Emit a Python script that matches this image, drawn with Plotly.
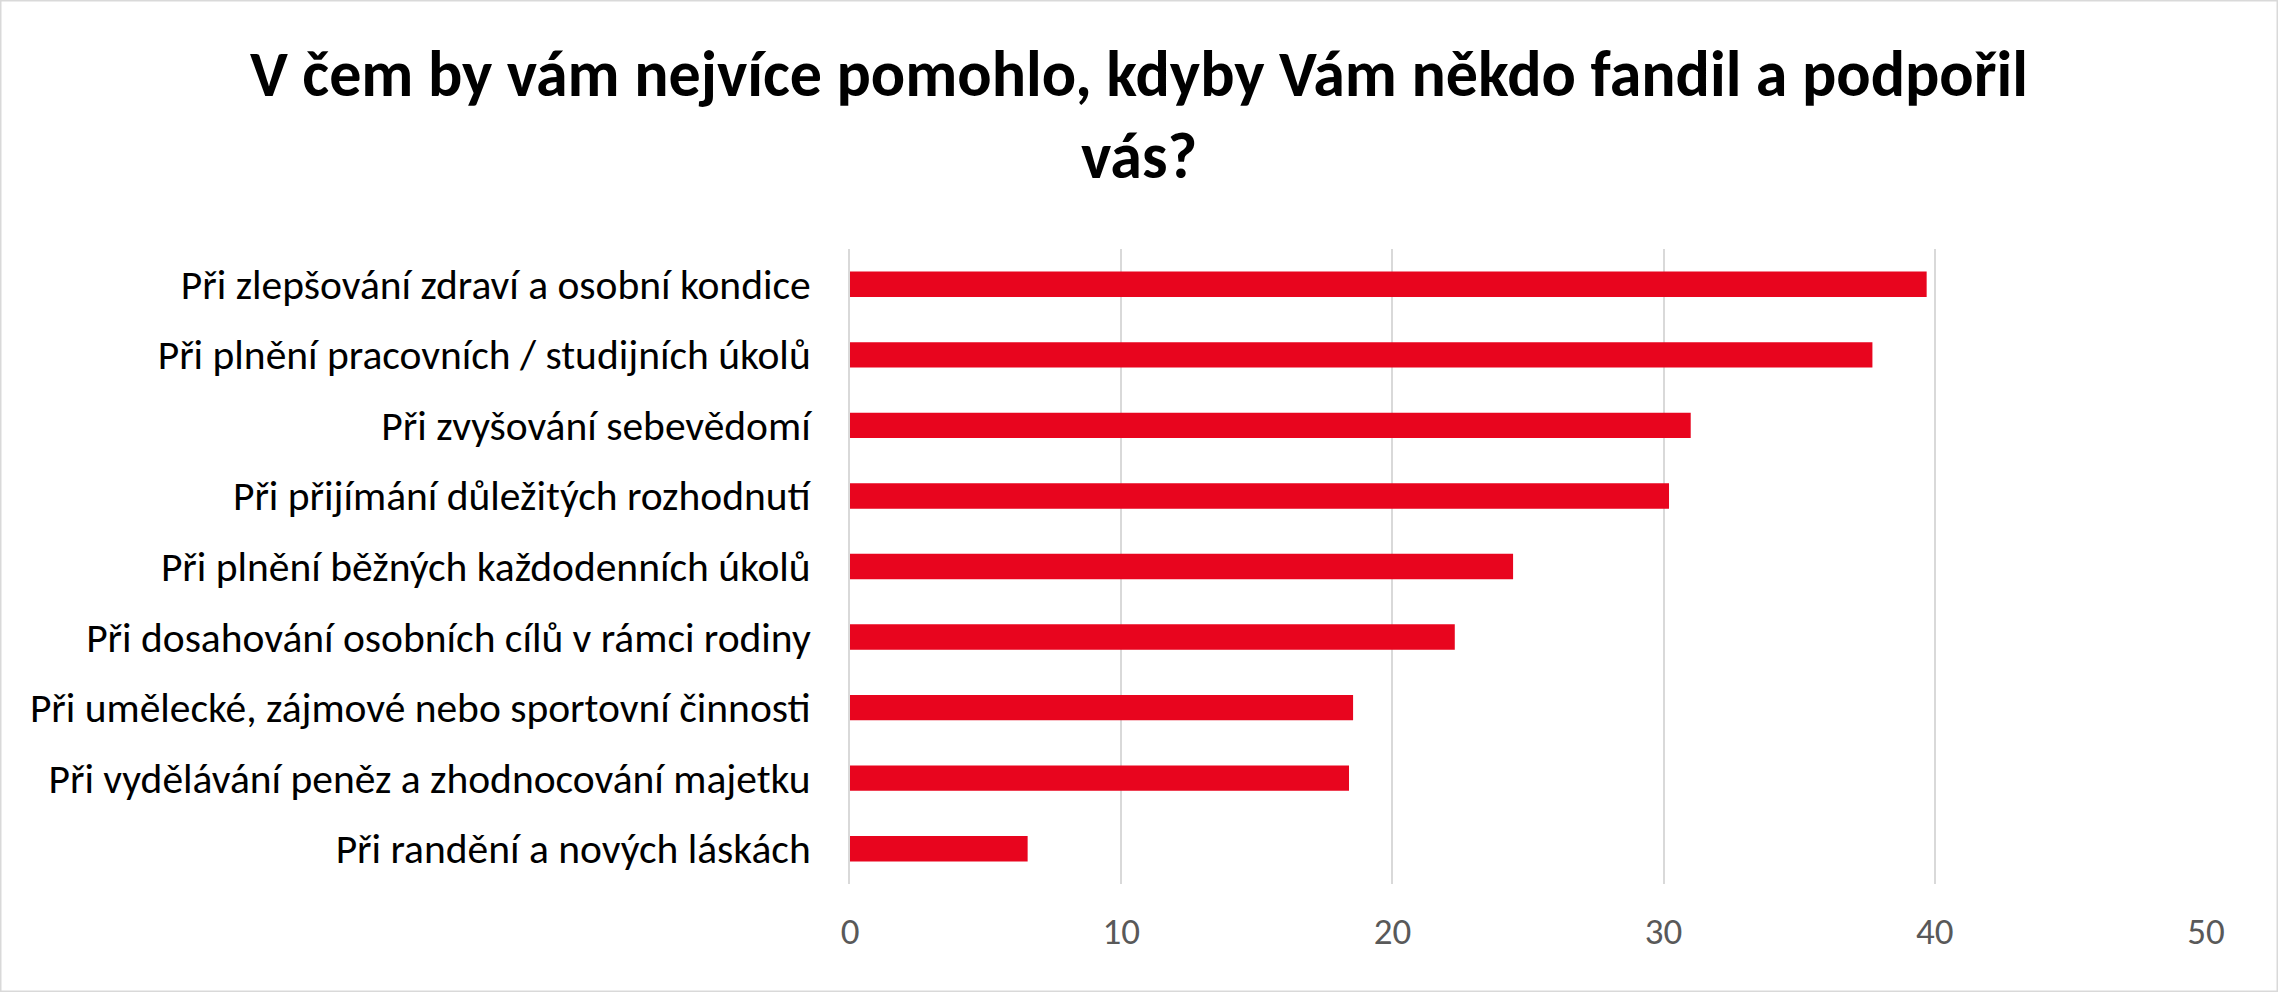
import plotly.graph_objects as go

categories = [
    "Při zlepšování zdraví a osobní kondice",
    "Při plnění pracovních / studijních úkolů",
    "Při zvyšování sebevědomí",
    "Při přijímání důležitých rozhodnutí",
    "Při plnění běžných každodenních úkolů",
    "Při dosahování osobních cílů v rámci rodiny",
    "Při umělecké, zájmové nebo sportovní činnosti",
    "Při vydělávání peněz a zhodnocování majetku",
    "Při randění a nových láskách",
]
values = [39.7, 37.7, 31.0, 30.2, 24.45, 22.3, 18.55, 18.4, 6.55]
x_ticks = [0, 10, 20, 30, 40, 50]

title_lines = ["V čem by vám nejvíce pomohlo, kdyby Vám někdo fandil a podpořil", "vás?"]

FONT = "Carlito, Calibri, Lato, sans-serif"

fig = go.Figure(
    go.Bar(
        x=values,
        y=categories,
        orientation="h",
        marker=dict(color="#E8051E", line=dict(width=0)),
        width=0.36,
        hoverinfo="x+y",
    )
)

title_html = "<br>".join("<span style='font-size:64px'>" + t + "</span>" for t in title_lines)

fig.update_layout(
    width=2278,
    height=992,
    autosize=False,
    paper_bgcolor="white",
    plot_bgcolor="white",
    margin=dict(l=850, r=72, t=249, b=108),
    showlegend=False,
    title=dict(
        text=title_html,
        x=0.5,
        xanchor="center",
        xref="container",
        yref="container",
        y=1 - 96 / 992,
        yanchor="top",
        font=dict(family=FONT, size=63, color="black", weight="bold"),
    ),
    font=dict(family=FONT),
)

fig.update_xaxes(
    range=[0, 50],
    tickvals=x_ticks,
    showgrid=True,
    gridcolor="#D9D9D9",
    gridwidth=2,
    zeroline=False,
    showline=False,
    tickfont=dict(size=37, color="#595959", family=FONT),
    ticklabelstandoff=22,
    fixedrange=True,
)
fig.update_yaxes(
    autorange="reversed",
    showgrid=False,
    showline=True,
    linecolor="#D9D9D9",
    linewidth=2,
    tickfont=dict(size=41.5, color="black", family=FONT),
    ticklabelstandoff=29,
    fixedrange=True,
)

fig.add_shape(
    type="rect", xref="paper", yref="paper",
    x0=-850 / (2278 - 850 - 72), x1=1 + 72 / (2278 - 850 - 72),
    y0=-108 / (992 - 249 - 108), y1=1 + 249 / (992 - 249 - 108),
    line=dict(color="#D9D9D9", width=3), fillcolor="rgba(0,0,0,0)", layer="below",
)

fig.write_html("out.html")
